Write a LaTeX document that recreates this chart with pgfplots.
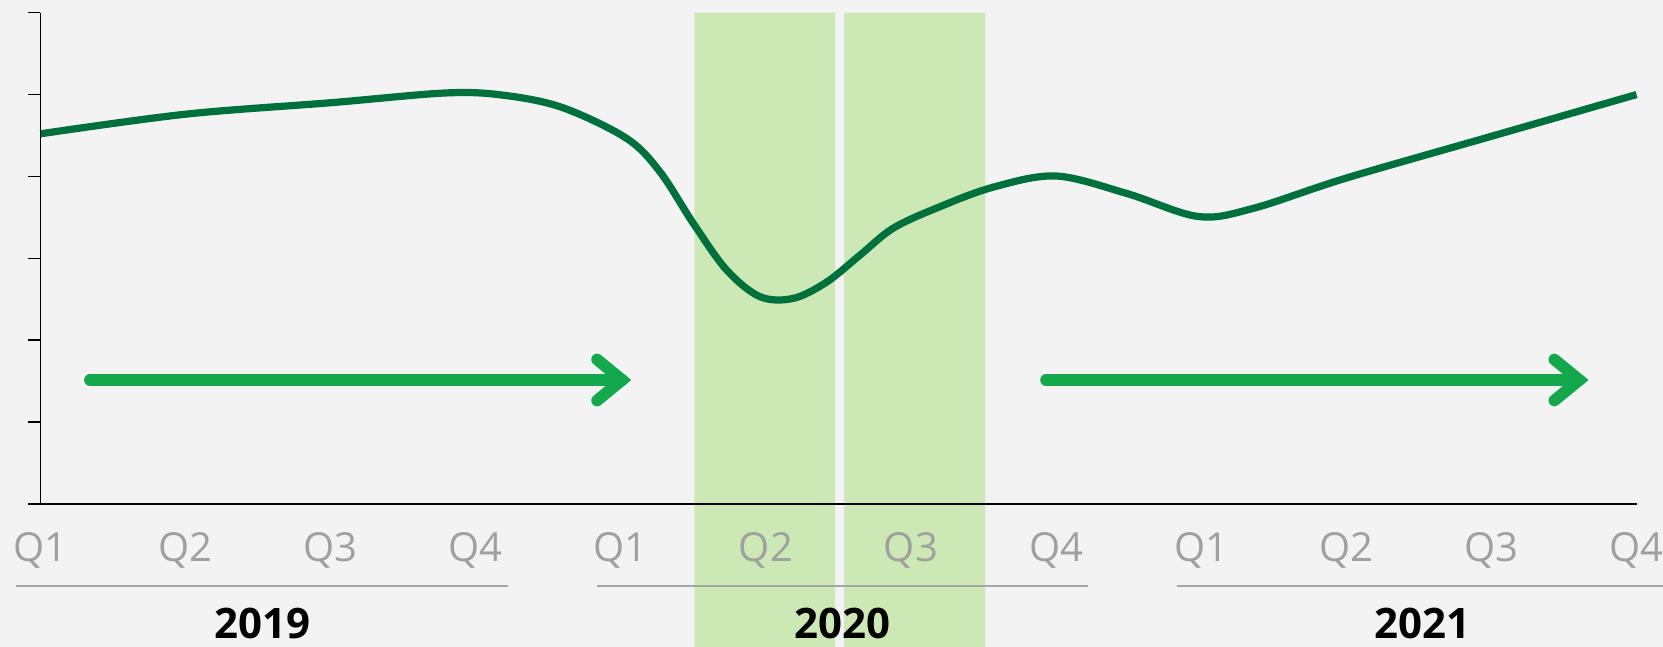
\documentclass[border=0pt]{standalone}
\usepackage{fontspec}
\setmainfont{Open Sans}
\usepackage{pgfplots}
\pgfplotsset{compat=1.18}
\definecolor{bg}{RGB}{243,243,243}
\definecolor{linegreen}{RGB}{0,112,60}
\definecolor{arrowgreen}{RGB}{20,168,76}
\definecolor{shade}{RGB}{204,232,181}
\definecolor{labgray}{RGB}{160,160,160}
\definecolor{rulegray}{RGB}{166,166,166}
\begin{document}
\begin{tikzpicture}
\fill[bg] (-20.15pt,-71.6pt) rectangle (811.35pt,251.9pt);
\begin{axis}[
  at={(0,0)}, anchor=south west,
  scale only axis, width=798.1pt, height=245.55pt,
  xmin=0, xmax=11, ymin=0, ymax=60,
  axis lines*=left,
  axis line style={black, line width=0.75pt},
  clip=false, axis on top,
  xtick={0,...,11},
  xticklabels={Q1,Q2,Q3,Q4,Q1,Q2,Q3,Q4,Q1,Q2,Q3,Q4},
  xtick style={draw=none},
  ytick={0,10,...,60}, yticklabels={},
  ytick style={black, line width=0.75pt},
  tick align=outside, major tick length=6pt,
  xticklabel style={font=\fontsize{20pt}{24pt}\selectfont, text=labgray, anchor=north, inner sep=0pt, yshift=-8.2pt},
]
% shaded quarters
\addplot[fill=shade, draw=none] coordinates {(4.507,-20) (5.477,-20) (5.477,60) (4.507,60)} \closedcycle;
\addplot[fill=shade, draw=none] coordinates {(5.539,-20) (6.511,-20) (6.511,60) (5.539,60)} \closedcycle;
% main line
\addplot[linegreen, line width=3.6pt, smooth, tension=0.55] coordinates {
(0,45.2) (1,47.6) (2,49.0) (2.8,50.2) (3.2,49.9) (3.6,48.4) (4.04,44.65)
(4.27,40.57) (4.5,34.26) (4.73,28.56) (4.96,25.3) (5.19,25.1) (5.42,27.1)
(5.65,30.4) (5.88,33.7) (6.2,36.3) (6.57,38.7) (7.0,40.05) (7.49,37.9)
(7.98,35.1) (8.36,36.1) (9.0,39.8) (10.0,44.9) (11.0,50.0)};
% arrows
\addplot[arrowgreen, line width=5.85pt, line cap=round] coordinates {(0.3425,15.125) (4.009,15.125)};
\addplot[arrowgreen, line width=5.85pt, line cap=round, line join=miter] coordinates {(3.837,17.63) (4.009,15.125) (3.837,12.62)};
\addplot[arrowgreen, line width=5.85pt, line cap=round] coordinates {(6.931,15.125) (10.606,15.125)};
\addplot[arrowgreen, line width=5.85pt, line cap=round, line join=miter] coordinates {(10.434,17.63) (10.606,15.125) (10.434,12.62)};
% year rules and labels
\draw[rulegray, line width=1pt] (axis cs:-0.167,-10) -- (axis cs:3.222,-10);
\draw[rulegray, line width=1pt] (axis cs:3.833,-10) -- (axis cs:7.222,-10);
\draw[rulegray, line width=1pt] (axis cs:7.833,-10) -- (axis cs:11.4,-10);
\node[anchor=base, font=\fontsize{21pt}{24pt}\selectfont\bfseries, inner sep=0pt] at (axis cs:1.528,-16.5) {2019};
\node[anchor=base, font=\fontsize{21pt}{24pt}\selectfont\bfseries, inner sep=0pt] at (axis cs:5.528,-16.5) {2020};
\node[anchor=base, font=\fontsize{21pt}{24pt}\selectfont\bfseries, inner sep=0pt] at (axis cs:9.528,-16.5) {2021};
\end{axis}
\pgfresetboundingbox
\path[use as bounding box] (-20.15pt,-71.6pt) rectangle (811.35pt,251.9pt);
\end{tikzpicture}
\end{document}
